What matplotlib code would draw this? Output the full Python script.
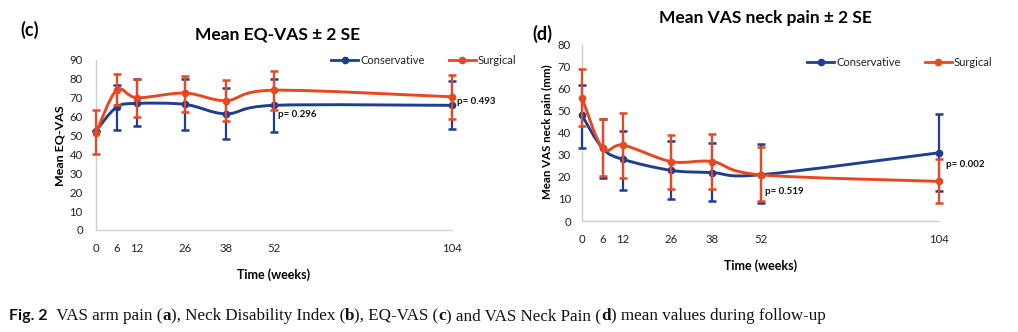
import matplotlib
matplotlib.use("Agg")
import matplotlib.pyplot as plt
import numpy as np
from matplotlib.path import Path
from matplotlib.patches import PathPatch
from matplotlib.lines import Line2D

# ---- data ----
weeks = [0, 6, 12, 26, 38, 52, 104]
week_labels = ["0", "6", "12", "26", "38", "52", "104"]

# EQ-VAS (panel c)
eq_cons = [52.5, 65, 67, 66.5, 61.5, 66, 66]
eq_cons_lo = [52.5, 53, 55, 53, 48, 52, 53.5]
eq_cons_hi = [52.5, 77, 80, 80, 75, 80, 79]
eq_surg = [51.5, 74, 70, 72.5, 68.5, 74, 70.5]
eq_surg_lo = [40.5, 66, 60, 62.5, 57.5, 63.5, 59]
eq_surg_hi = [63.5, 82.5, 80, 81.5, 79.5, 84, 82]

# VAS neck pain (panel d)
np_cons = [48, 33, 28, 23, 22, 21, 31]
np_cons_lo = [33, 19.5, 14, 10, 9, 8, 13.5]
np_cons_hi = [62, 46.5, 41, 36.5, 35.5, 35, 48.5]
np_surg = [56, 33, 34.5, 27, 27, 21, 18]
np_surg_lo = [43, 20.5, 19.5, 14.5, 14.5, 9, 8]
np_surg_hi = [69, 46.5, 49, 39, 39.5, 33.5, 28]

series_names = ["Conservative", "Surgical"]
BLUE = "#1f3d91"
ORANGE = "#e8471f"
SPINE = "#cfcfcf"
FONT = "Lato"

plt.rcParams["font.family"] = [FONT, "DejaVu Sans"]

fig = plt.figure(figsize=(10.18, 3.32), dpi=100)


def smooth_path(xs, ys):
    """Catmull-Rom curve through the points, as cubic Bezier segments."""
    pts = np.column_stack([xs, ys]).astype(float)
    n = len(pts)
    verts = [pts[0]]
    codes = [Path.MOVETO]
    for i in range(n - 1):
        p0 = pts[i - 1] if i > 0 else pts[i]
        p1 = pts[i]
        p2 = pts[i + 1]
        p3 = pts[i + 2] if i + 2 < n else pts[i + 1]
        c1 = p1 + (p2 - p0) / 6.0
        c2 = p2 - (p3 - p1) / 6.0
        verts += [c1, c2, p2]
        codes += [Path.CURVE4] * 3
    return Path(verts, codes)


def draw_series(ax, y, lo, hi, color, z):
    y = np.asarray(y, float)
    yerr = [y - np.asarray(lo, float), np.asarray(hi, float) - y]
    ax.errorbar(weeks, y, yerr=yerr, fmt="none", ecolor=color,
                elinewidth=1.6, capsize=3, capthick=1.8, zorder=z,
                clip_on=False)
    ax.add_patch(PathPatch(smooth_path(weeks, y), facecolor="none",
                           edgecolor=color, lw=2.1, zorder=z + 1,
                           clip_on=False))
    ax.plot(weeks, y, linestyle="none", marker="o", ms=4.5, color=color,
            zorder=z + 2, clip_on=False)


def style_axes(ax, ymax, ystep, ypad):
    ax.set_xlim(0, 104)
    ax.set_ylim(0, ymax)
    ax.set_xticks(weeks)
    ax.set_xticklabels(week_labels)
    ax.set_yticks(np.arange(0, ymax + 1, ystep))
    for s in ("top", "right"):
        ax.spines[s].set_visible(False)
    for s in ("left", "bottom"):
        ax.spines[s].set_color(SPINE)
        ax.spines[s].set_linewidth(1.0)
    ax.tick_params(axis="both", length=0, labelsize=8.2, colors="#222222")
    ax.tick_params(axis="x", pad=9.5)
    ax.tick_params(axis="y", pad=ypad)
    ax.patch.set_visible(False)


def y_label(ax, text, x_ax, y_ax, size):
    ax.set_ylabel(text, fontsize=size, fontweight="bold")
    ax.yaxis.label.set_va("center")
    ax.yaxis.set_label_coords(x_ax, y_ax)


def legend(ax, anchor):
    handles = [Line2D([], [], color=BLUE, lw=2, marker="o", ms=4.5),
               Line2D([], [], color=ORANGE, lw=2, marker="o", ms=4.5)]
    ax.legend(handles, series_names, ncol=2, frameon=False, fontsize=8,
              loc="center", bbox_to_anchor=anchor,
              bbox_transform=fig.transFigure, handlelength=2.4,
              handletextpad=0.2, columnspacing=2.2, labelcolor="#222222")


def p_label(ax, x, y, text):
    ax.text(x, y, text, fontsize=7, fontweight="bold", va="center",
            ha="left", transform=ax.transData, color="#111111")


# ---- panel (c) ----
axc = fig.add_axes([96 / 1018, 1 - 230 / 332, 356 / 1018, 170 / 332])
style_axes(axc, 90, 10, 9.5)
draw_series(axc, eq_cons, eq_cons_lo, eq_cons_hi, BLUE, 3)
draw_series(axc, eq_surg, eq_surg_lo, eq_surg_hi, ORANGE, 6)
axc.set_xlabel("Time (weeks)", fontsize=9, fontweight="bold", labelpad=10)
y_label(axc, "Mean EQ-VAS", (60 - 96) / 356, (230 - 146) / 170, 8.9)
p_label(axc, 53.2, 61.4, "p= 0.296")
p_label(axc, 105.4, 67.8, "p= 0.493")
legend(axc, (424 / 1018, 1 - 60 / 332))
fig.text(278 / 1018, 1 - 34 / 332, "Mean EQ-VAS \u00b1 2 SE", fontsize=12.5,
         fontweight="bold", ha="center", va="center")
fig.text(30 / 1018, 1 - 30 / 332, "(c)", fontsize=13, fontweight="bold",
         ha="center", va="center")

# ---- panel (d) ----
axd = fig.add_axes([582 / 1018, 1 - 221 / 332, 357 / 1018, 176 / 332])
style_axes(axd, 80, 10, 8)
draw_series(axd, np_cons, np_cons_lo, np_cons_hi, BLUE, 3)
draw_series(axd, np_surg, np_surg_lo, np_surg_hi, ORANGE, 6)
axd.set_xlabel("Time (weeks)", fontsize=9, fontweight="bold", labelpad=10)
y_label(axd, "Mean VAS neck pain (mm)", (547 - 582) / 357,
        (221 - 132) / 176, 8.3)
p_label(axd, 53.3, 13.6, "p= 0.519")
p_label(axd, 106, 25.9, "p= 0.002")
legend(axd, (900 / 1018, 1 - 62 / 332))
fig.text(765 / 1018, 1 - 18 / 332, "Mean VAS neck pain \u00b1 2 SE",
         fontsize=12.5, fontweight="bold", ha="center", va="center")
fig.text(542 / 1018, 1 - 34 / 332, "(d)", fontsize=13, fontweight="bold",
         ha="center", va="center")

# ---- caption, with bold panel letters ----
SERIF = ["Liberation Serif"]
caption = [("Fig. 2", "bold", [FONT], 11.5),
           ("  VAS arm pain (", "normal", SERIF, 12.25),
           ("a", "bold", SERIF, 12.25),
           ("), Neck Disability Index (", "normal", SERIF, 12.25),
           ("b", "bold", SERIF, 12.25),
           ("), EQ-VAS (", "normal", SERIF, 12.25),
           ("c", "bold", SERIF, 12.25),
           (") and VAS Neck Pain (", "normal", SERIF, 12.25),
           ("d", "bold", SERIF, 12.25),
           (") mean values during follow-up", "normal", SERIF, 12.25)]
renderer = fig.canvas.get_renderer()
x_px = 9.0
y_fig = 1 - 320 / 332
for txt, weight, fam, size in caption:
    t = fig.text(x_px / 1018, y_fig, txt, fontsize=size, fontweight=weight,
                 family=fam, ha="left", va="baseline", color="#111111")
    bb = t.get_window_extent(renderer)
    x_px += bb.width

fig.savefig("out.png", dpi=100)
